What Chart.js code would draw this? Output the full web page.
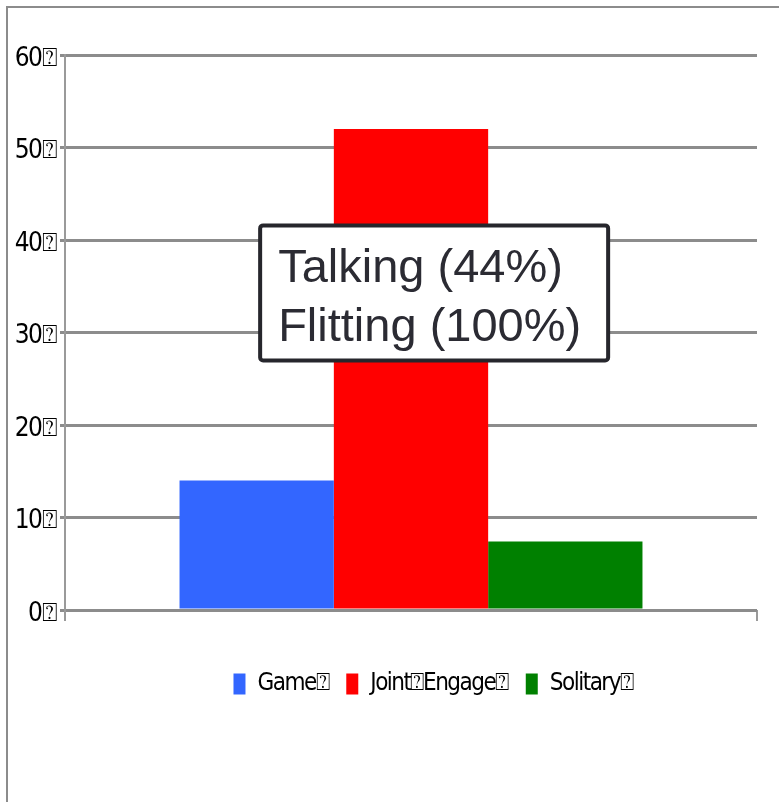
<!DOCTYPE html>
<html>
<head>
<meta charset="utf-8">
<script src="https://cdn.jsdelivr.net/npm/chart.js@4/dist/chart.umd.min.js"></script>
<style>
  html, body { margin: 0; padding: 0; background: #fff; overflow: hidden; }
  #frame {
    position: absolute; left: 6px; top: 6px; width: 900px; height: 900px;
    border-left: 2px solid #8c8c8c; border-top: 2px solid #8c8c8c;
  }
  #wrap { position: absolute; left: 0; top: 0; width: 779px; height: 802px; }
</style>
</head>
<body>
<div id="frame"></div>
<div id="wrap"><canvas id="grafico"></canvas></div>
<script>
const CATEGORIE = [''];
const SERIE = ['Game\u2370', 'Joint\u2370Engage\u2370', 'Solitary\u2370'];
const VALORI = [14, 52, 7.4];
const COLORI = ['#3366ff', '#ff0000', '#008000'];
const TICK_Y = [0, 10, 20, 30, 40, 50, 60];
const NOTA = ['Talking (44%)', 'Flitting (100%)'];

const FONT_STRETTO = "'Liberation Sans Narrow', 'DejaVu Sans Condensed', 'Open Sans', sans-serif";

// testo degli assi e della legenda un po' più stretto;
// la legenda è spostata verso destra rispetto al centro
const strettoPlugin = {
  id: 'stretto',
  beforeLayout(chart) { chart.ctx.letterSpacing = '-1.5px'; },
  afterLayout(chart) {
    const l = chart.legend;
    const d = 433 - (l.left + l.right) / 2;
    l.left += d;
    l.right += d;
  },
  beforeDraw(chart) { chart.ctx.letterSpacing = '-1.5px'; },
};

// riquadro di testo sovrapposto alle barre
const notaPlugin = {
  id: 'nota',
  afterDatasetsDraw(chart) {
    const { ctx, chartArea: a } = chart;
    const x = a.left + (a.right - a.left) * 0.282;
    const y = a.top + (a.bottom - a.top) * 0.307;
    const w = 348, h = 135;
    ctx.save();
    ctx.letterSpacing = '0px';
    ctx.fillStyle = '#fff';
    ctx.strokeStyle = '#26262c';
    ctx.lineWidth = 4;
    ctx.beginPath();
    ctx.roundRect(x, y, w, h, 3);
    ctx.fill();
    ctx.stroke();
    ctx.fillStyle = '#2b2b33';
    ctx.font = "47px 'Liberation Sans', Arial, sans-serif";
    ctx.textBaseline = 'alphabetic';
    NOTA.forEach((t, i) => ctx.fillText(t, x + 18, y + 57 + i * 59));
    ctx.restore();
  },
};

new Chart(document.getElementById('grafico'), {
  type: 'bar',
  data: {
    labels: CATEGORIE,
    datasets: SERIE.map((nome, i) => ({
      label: nome,
      data: [VALORI[i]],
      backgroundColor: COLORI[i],
      borderWidth: 0,
      barPercentage: 1,
      categoryPercentage: 0.669,
    })),
  },
  options: {
    responsive: true,
    maintainAspectRatio: false,
    animation: false,
    layout: { padding: { left: 7, right: 22, top: 55, bottom: 96 } },
    scales: {
      x: {
        afterFit: (s) => { s.height = 44; },
        grid: { offset: true, drawOnChartArea: false, tickLength: 11, color: '#9a9a9a', lineWidth: 2 },
        border: { display: false },
        ticks: { display: false },
      },
      y: {
        min: 0, max: 60,
        afterBuildTicks: (s) => { s.ticks = TICK_Y.map((v) => ({ value: v })); },
        afterFit: (s) => { s.width = 58; },
        ticks: {
          color: '#000',
          padding: 4,
          labelOffset: 4,
          font: { family: FONT_STRETTO, size: 26 },
          callback: (v) => v + '\u2370',
        },
        grid: { color: '#8c8c8c', lineWidth: 3, tickLength: 5 },
        border: { color: '#9a9a9a', width: 2 },
      },
    },
    plugins: {
      legend: {
        position: 'bottom',
        labels: {
          color: '#000',
          boxWidth: 12,
          boxHeight: 21,
          padding: 18,
          font: { family: FONT_STRETTO, size: 24 },
        },
      },
      tooltip: { enabled: false },
    },
  },
  plugins: [strettoPlugin, notaPlugin],
});
</script>
</body>
</html>
